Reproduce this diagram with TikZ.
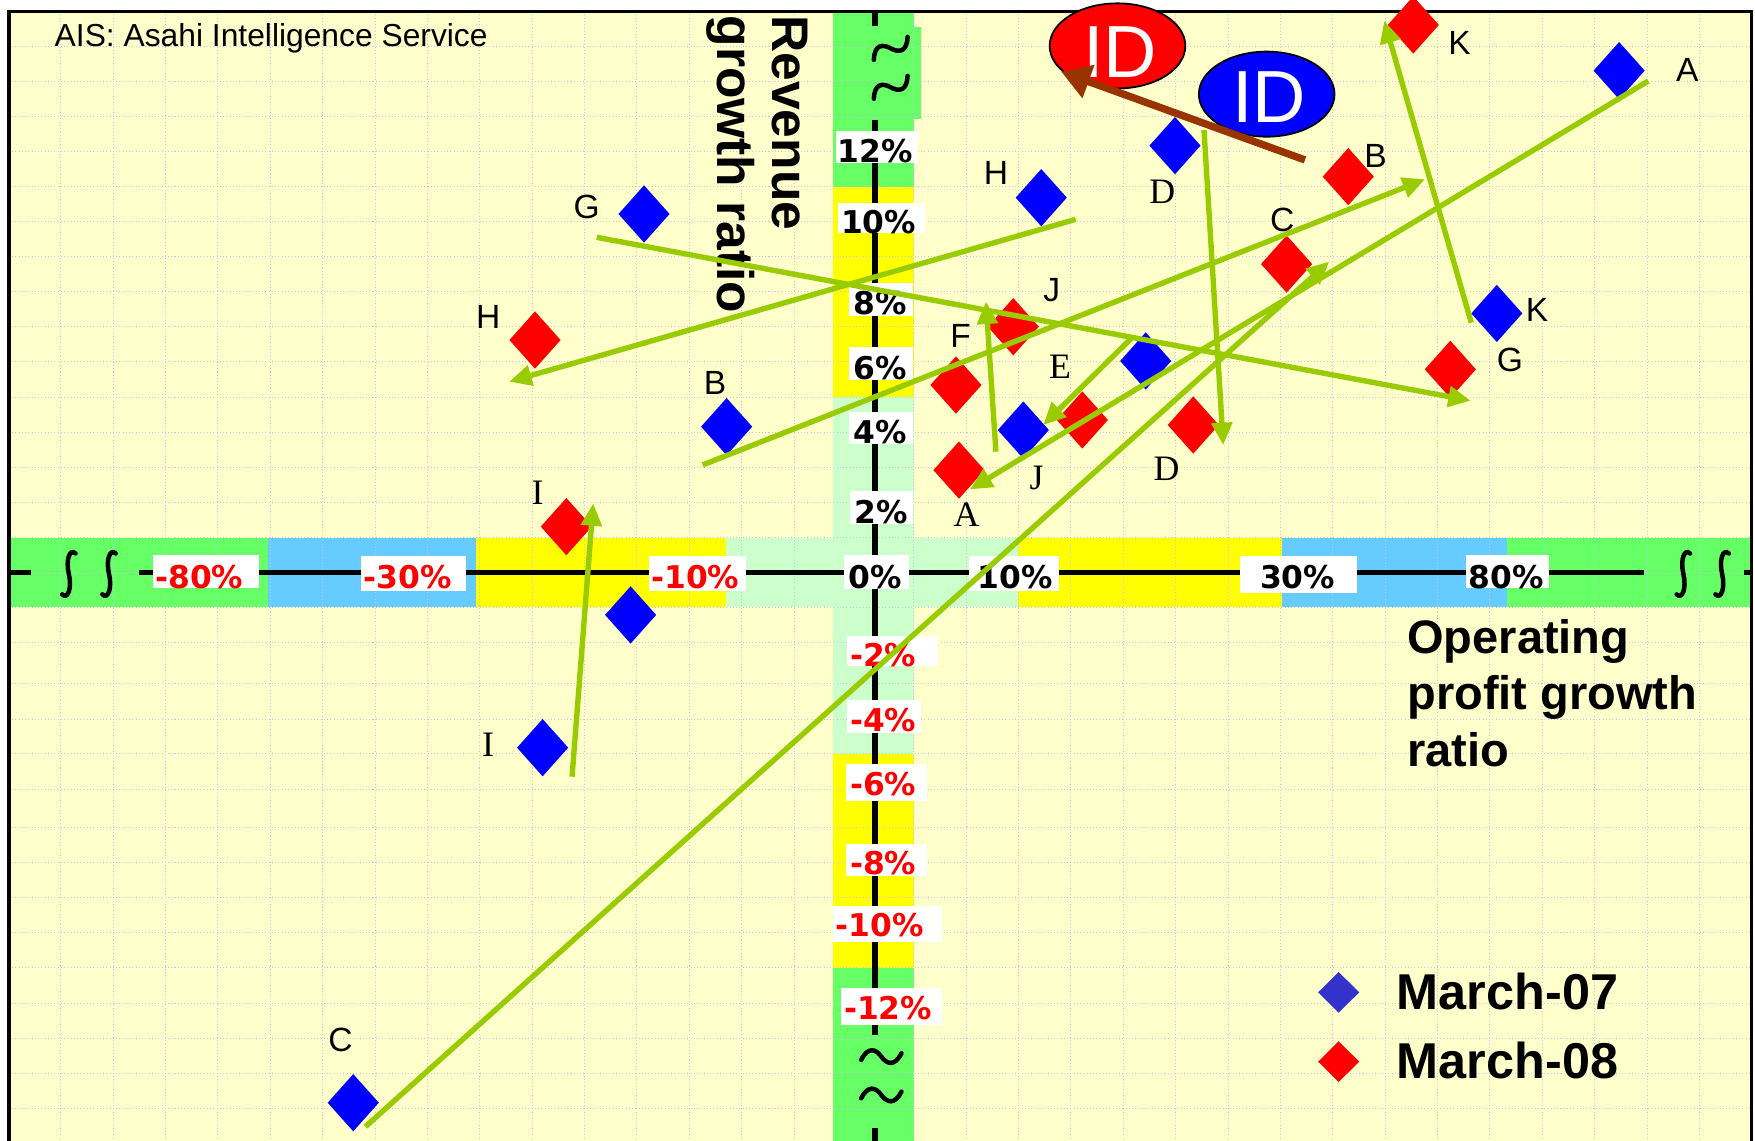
\documentclass[tikz,border=0pt]{standalone}
\usepackage{fontspec}
\setmainfont{Liberation Sans}
\newfontfamily\tickf{DejaVu Sans}
\newfontfamily\serf{Liberation Serif}
\usetikzlibrary{shapes.geometric,arrows.meta}
\definecolor{bgy}{HTML}{FFFFCC}
\definecolor{bgreen}{HTML}{66FF66}
\definecolor{bblue}{HTML}{66CCFF}
\definecolor{byel}{HTML}{FFFF00}
\definecolor{blgreen}{HTML}{CCFFCC}
\definecolor{gridc}{HTML}{C4C4EC}
\definecolor{agreen}{HTML}{99CC00}
\definecolor{abrown}{HTML}{993300}
\definecolor{legblue}{HTML}{3333CC}
\begin{document}
\begin{tikzpicture}[x=0.5pt,y=-0.5pt,
  gl/.style={draw=gridc,line width=0.45pt,densely dotted},
  axisline/.style={draw=black,line width=2.4pt},
  sym/.style={draw=black,line width=2pt,line cap=round},
  garrow/.style={draw=agreen,line width=2.4pt,-{Triangle[length=10pt,width=9pt]}},
  barrow/.style={draw=abrown,line width=3.3pt,-{Triangle[length=13pt,width=15pt]}},
  dia/.style={diamond,inner sep=0pt,minimum width=23pt,minimum height=25.75pt},
  d07/.style={dia,fill=blue},
  d08/.style={dia,fill=red},
  ldia/.style={diamond,inner sep=0pt,minimum width=18.5pt,minimum height=18.4pt},
  lbs/.style={inner sep=0pt,font=\fontsize{15}{15}\selectfont},
  lbr/.style={inner sep=0pt,font=\serf\fontsize{16}{16}\selectfont},
  tickb/.style={inner sep=0pt,anchor=base,font=\tickf\bfseries\fontsize{14}{14}\selectfont},
  tickn/.style={tickb,text=black},
  tickr/.style={tickb,text=red},
  wbox/.style={fill=white},
  idell/.style={ellipse,draw=black,line width=0.8pt,inner sep=0pt,minimum width=60.6pt,minimum height=38pt},
  idtext/.style={inner sep=0pt,text=white,font=\fontsize{33}{33}\selectfont},
  ttl/.style={inner sep=0pt,anchor=base west,font=\bfseries\fontsize{21}{21}\selectfont},
  vttl/.style={inner sep=0pt,anchor=base west,rotate=-90,font=\bfseries\fontsize{23}{23}\selectfont},
  legt/.style={inner sep=0pt,anchor=base west,font=\bfseries\fontsize{22.5}{22.5}\selectfont}
]
\useasboundingbox (0,0) rectangle (1568,1019);
\fill[white] (0,0) rectangle (1568,1019);
\fill[bgy] (8,10) rectangle (1565,1019);

% horizontal band
\fill[bgreen] (8,480.4) rectangle (239.4,542.6);
\fill[bblue] (239.4,480.4) rectangle (425,542.6);
\fill[byel] (425,480.4) rectangle (649,542.6);
\fill[blgreen] (649,480.4) rectangle (909.8,542.6);
\fill[byel] (909.8,480.4) rectangle (1145.7,542.6);
\fill[bblue] (1145.7,480.4) rectangle (1346.6,542.6);
\fill[bgreen] (1346.6,480.4) rectangle (1565,542.6);
% vertical band
\fill[bgreen] (744.6,10) rectangle (816.4,166.8);
\fill[bgreen] (744.6,24) rectangle (823,106.6);
\fill[byel] (744.6,166.8) rectangle (816.4,355);
\fill[blgreen] (744.6,355) rectangle (816.4,673.6);
\fill[byel] (744.6,673.6) rectangle (816.4,864.5);
\fill[bgreen] (744.6,864.5) rectangle (816.4,1019);

% grid
\foreach \k in {1,...,17} {\draw[gl] (8,{10.4+31.3*\k}) -- (1565,{10.4+31.3*\k});}
\foreach \yy in {573.8,610.5,642.4,673.6,705.2,739.5,770.7,802,833.3,864.6,896.4,927.6,958.9,990.2} {\draw[gl] (8,\yy) -- (1565,\yy);}
\foreach \k in {1,...,15} {\draw[gl] ({7.5+46.8*\k},10) -- ({7.5+46.8*\k},1019);}
\foreach \k in {0,...,15} {\draw[gl] ({816.4+46.8*\k},10) -- ({816.4+46.8*\k},1019);}

% axes
\draw[axisline] (8,511.6) -- (27.4,511.6);
\draw[axisline] (123.8,511.6) -- (1468.4,511.6);
\draw[axisline] (1558,511.6) -- (1565,511.6);
\draw[axisline] (781.6,10) -- (781.6,23.2);
\draw[axisline] (781.6,107) -- (781.6,924.7);
\draw[axisline] (781.6,1008) -- (781.6,1019);

% break symbols
\foreach \xx in {61.5,97.4,1504,1538.6} {
  \draw[sym] (\xx+6,494.5) .. controls (\xx+1,489.5) and (\xx-3,500) .. (\xx,512.8) .. controls (\xx+3,525.6) and (\xx-1,536) .. (\xx-6,531);
}
\foreach \yy in {43.2,78} {
  \begin{scope}[rotate around={25:(795.8,\yy)}]
  \draw[sym] (795.8-18,\yy+3) .. controls (795.8-12,\yy-9) and (795.8-5,\yy-7) .. (795.8,\yy) .. controls (795.8+5,\yy+7) and (795.8+12,\yy+9) .. (795.8+18,\yy-3);
  \end{scope}
}
\foreach \yy in {944,978.3} {
  \draw[sym] (787.4-18,\yy+3) .. controls (787.4-12,\yy-9) and (787.4-5,\yy-7) .. (787.4,\yy) .. controls (787.4+5,\yy+7) and (787.4+12,\yy+9) .. (787.4+18,\yy-3);
}

% tick label boxes
\fill[wbox] (136.7,495.8) rectangle (231.8,525.5);
\fill[wbox] (322.5,496.7) rectangle (416,527.7);
\fill[wbox] (579.8,497) rectangle (666.7,527.7);
\fill[wbox] (753.8,496) rectangle (811.7,526);
\fill[wbox] (865.3,497) rectangle (946.3,528);
\fill[wbox] (1107.7,496.7) rectangle (1212.5,530);
\fill[wbox] (1310,495.8) rectangle (1383.7,525.5);
\fill[wbox] (747.3,117) rectangle (820.5,146);
\fill[wbox] (749,181) rectangle (826.4,208.5);
\fill[wbox] (758.8,253) rectangle (816,282.3);
\fill[wbox] (758.8,309.7) rectangle (816,339.5);
\fill[wbox] (758.8,367.8) rectangle (816,396.7);
\fill[wbox] (759,439) rectangle (816,468);
\fill[wbox] (756.5,568) rectangle (837.6,595);
\fill[wbox] (756.5,625.4) rectangle (823,654.6);
\fill[wbox] (755.8,682.6) rectangle (828,716);
\fill[wbox] (755.8,754) rectangle (828,783);
\fill[wbox] (744.2,809) rectangle (842,842);
\fill[wbox] (751,883) rectangle (842,916);

% tick labels
\node[tickr] (hm80) at (178,525.6) {-80\%};
\node[tickr] (hm30) at (364.3,525.6) {-30\%};
\node[tickr] (hm10) at (621.2,525.6) {-10\%};
\node[tickn] (h0) at (782.2,525.6) {0\%};
\node[tickn] (hp10) at (907,525.6) {10\%};
\node[tickn] (hp30) at (1159.4,525.6) {30\%};
\node[tickn] (hp80) at (1345.6,525.6) {80\%};
\node[tickn] (v12) at (782.2,145) {12\%};
\node[tickn] (v10) at (784.9,208.5) {10\%};
\node[tickn] (v8) at (786.6,281.4) {8\%};
\node[tickn] (v6) at (786.6,338.9) {6\%};
\node[tickn] (v4) at (786.6,396.1) {4\%};
\node[tickn] (v2) at (787.3,467.5) {2\%};
\node[tickr] (vm2) at (789,595.6) {-2\%};
\node[tickr] (vm4) at (789,653.1) {-4\%};
\node[tickr] (vm6) at (789,710.3) {-6\%};
\node[tickr] (vm8) at (789,781.7) {-8\%};
\node[tickr] (vm10) at (786.2,836.8) {-10\%};
\node[tickr] (vm12) at (793.4,910.7) {-12\%};

% titles
\node[inner sep=0pt,anchor=base west,font=\fontsize{14.2}{14.2}\selectfont] (ais) at (48.5,41.7) {AIS: Asahi Intelligence Service};
\node[vttl] (rev1) at (690,13.5) {Revenue};
\node[vttl] (rev2) at (641,13.5) {growth ratio};
\node[ttl] (op1) at (1257,583.7) {Operating};
\node[ttl] (op2) at (1257,634.3) {profit growth};
\node[ttl] (op3) at (1257,685) {ratio};

% frame
\draw[line width=1.4pt] (8,1019) -- (8,10) -- (1565,10) -- (1565,1019);

% diamonds March-07
\node[d07] (bA) at (1446.6,63.1) {};
\node[d07] (bB) at (649.2,381.2) {};
\node[d07] (bC) at (315.6,985.2) {};
\node[d07] (bD) at (1049.8,130.1) {};
\node[d07] (bE) at (1023.6,322.5) {};
\node[d07] (bF) at (563.4,549.4) {};
\node[d07] (bG) at (575.4,191.2) {};
\node[d07] (bH) at (930.3,176.6) {};
\node[d07] (bI) at (484.8,668) {};
\node[d07] (bJ) at (914.3,384.2) {};
\node[d07] (bK) at (1337.3,280) {};
% diamonds March-08
\node[d08] (rA) at (856.8,420) {};
\node[d08] (rB) at (1204.6,157.8) {};
\node[d08] (rC) at (1149.5,235.9) {};
\node[d08] (rD) at (1066.1,379.7) {};
\node[d08] (rE) at (967,375.2) {};
\node[d08] (rF) at (854.1,344) {};
\node[d08] (rG) at (1295.8,330) {};
\node[d08] (rH) at (478,303.8) {};
\node[d08] (rI) at (506,470.5) {};
\node[d08] (rJ) at (905.3,291.9) {};
\node[d08] (rK) at (1262.7,22.3) {};

% point labels
\node[lbs] (lbA) at (1507.6,62.5) {A};
\node[lbs] (lbB) at (638.8,342.5) {B};
\node[lbs] (lbC) at (304.3,929) {C};
\node[lbr] (lbD) at (1038.4,171.8) {D};
\node[lbr] (lbE) at (947,327.6) {E};
\node[lbs] (lbG) at (524.1,185.2) {G};
\node[lbs] (lbH) at (889.8,154.8) {H};
\node[lbr] (lbI) at (436,665.6) {I};
\node[lbr] (lbJ) at (926.2,427.3) {J};
\node[lbs] (lbK) at (1373.3,277) {K};
\node[lbr] (lrA) at (863.6,460) {A};
\node[lbs] (lrB) at (1229,139.4) {B};
\node[lbs] (lrC) at (1145.7,196.6) {C};
\node[lbr] (lrD) at (1042.3,418.4) {D};
\node[lbs] (lrF) at (858.3,300.2) {F};
\node[lbs] (lrG) at (1349,321.6) {G};
\node[lbs] (lrH) at (436.3,283) {H};
\node[lbr] (lrI) at (480.4,440.7) {I};
\node[lbs] (lrJ) at (939.6,259.1) {J};
\node[lbs] (lrK) at (1304.1,38.7) {K};

% arrow end points
\coordinate (As) at (1472.6,72.4);  \coordinate (Ae) at (866.6,437.2);
\coordinate (Bs) at (627.8,415.4);  \coordinate (Be) at (1273.1,160.2);
\coordinate (Cs) at (326.5,1006.6); \coordinate (Ce) at (1187.6,233.8);
\coordinate (Ds) at (1075.7,116.1); \coordinate (De) at (1092.9,397.6);
\coordinate (Es) at (1011.6,301.4); \coordinate (Ee) at (932.1,379.7);
\coordinate (Gs) at (533.1,212);    \coordinate (Ge) at (1314,358);
\coordinate (Hs) at (961,196);      \coordinate (He) at (455,341);
\coordinate (Is) at (511.1,693.9);  \coordinate (Ie) at (530,449.7);
\coordinate (Js) at (889.8,403.5);  \coordinate (Je) at (880.9,269.5);
\coordinate (Ks) at (1314.5,288.3); \coordinate (Ke) at (1236.7,18.5);
\coordinate (Ws) at (1165.9,142.9); \coordinate (We) at (948.1,64);

\draw[garrow] (As) -- (Ae);
\draw[garrow] (Bs) -- (Be);
\draw[garrow] (Cs) -- (Ce);
\draw[garrow] (Ds) -- (De);
\draw[garrow] (Es) -- (Ee);
\draw[garrow] (Gs) -- (Ge);
\draw[garrow] (Hs) -- (He);
\draw[garrow] (Is) -- (Ie);
\draw[garrow] (Js) -- (Je);
\draw[garrow] (Ks) -- (Ke);

% ID ellipses
\node[idell,fill=red] (idr) at (998.4,41) {};
\node[idtext] (idrt) at (1001,46.2) {ID};
\node[idell,fill=blue] (idb) at (1131.7,84.1) {};
\node[idtext] (idbt) at (1134,87.1) {ID};
\draw[barrow] (Ws) -- (We);

% legend
\node[ldia,fill=legblue] (l07) at (1196,886.6) {};
\node[ldia,fill=red] (l08) at (1196,948.5) {};
\node[legt] (t07) at (1247.7,901.7) {March-07};
\node[legt] (t08) at (1247.7,963.4) {March-08};
\end{tikzpicture}
\end{document}
